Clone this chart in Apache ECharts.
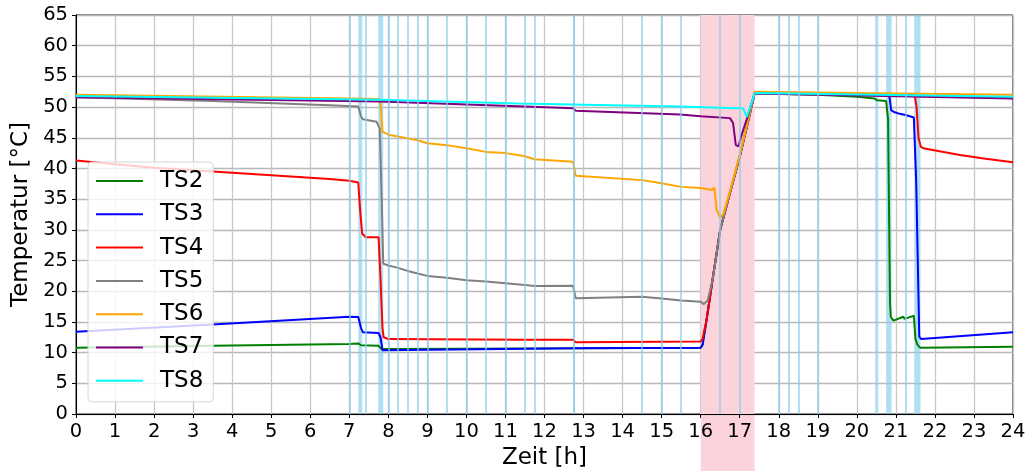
<!DOCTYPE html>
<html>
<head>
<meta charset="utf-8">
<script src="https://cdn.jsdelivr.net/npm/echarts@6/dist/echarts.min.js"></script>
<style>
html,body{margin:0;padding:0;background:#fff;}
#chart{width:1032px;height:475px;}
</style>
</head>
<body>
<div id="chart"></div>
<script>
// ---- data (hours, °C) ----
const seriesNames = ['TS2','TS3','TS4','TS5','TS6','TS7','TS8'];
const xTicks = [0,1,2,3,4,5,6,7,8,9,10,11,12,13,14,15,16,17,18,19,20,21,22,23,24];
const yTicks = [0,5,10,15,20,25,30,35,40,45,50,55,60,65];

const ts2 = [[0,10.8],[3.5,11.1],[7.0,11.4],[7.23,11.5],[7.3,11.2],[7.75,11.1],[7.82,10.6],[7.86,10.3],[7.92,10.6],[10,10.65],[13,10.7],[16.0,10.8],[16.05,11.3],[16.15,15.3],[16.3,21.7],[16.5,30.0],[16.75,36.0],[17.0,41.9],[17.2,47.3],[17.38,52.2],[17.45,52.2],[19.0,52.0],[20.0,51.7],[20.45,51.4],[20.52,51.1],[20.75,51.0],[20.8,48.0],[20.85,18.0],[20.87,15.8],[20.94,15.2],[21.19,15.85],[21.22,15.5],[21.46,16.0],[21.5,12.3],[21.55,11.3],[21.62,10.8],[24,10.95]];
const ts3 = [[0,13.4],[3.5,14.6],[7.0,15.85],[7.23,15.8],[7.3,14.0],[7.35,13.3],[7.75,13.2],[7.8,12.5],[7.85,10.4],[7.9,10.7],[12.75,10.7],[16.0,10.8],[16.05,11.3],[16.15,15.3],[16.3,21.7],[16.5,30.0],[16.75,36.0],[17.0,41.9],[17.2,47.3],[17.38,52.2],[17.45,52.2],[20.8,52.0],[20.84,51.5],[20.88,49.5],[20.95,49.2],[21.1,48.9],[21.25,48.7],[21.3,48.5],[21.46,48.3],[21.52,38.0],[21.6,12.6],[21.65,12.2],[24,13.3]];
const ts4 = [[0,41.3],[1,40.7],[2,40.1],[3.5,39.5],[5,38.9],[6.5,38.3],[7.0,38.0],[7.23,37.7],[7.28,33.0],[7.33,29.4],[7.42,28.8],[7.75,28.8],[7.8,22.0],[7.85,14.0],[7.88,12.5],[8.0,12.2],[11.5,12.1],[12.73,12.1],[12.8,11.7],[16.0,11.8],[16.05,12.3],[16.15,15.3],[16.3,21.7],[16.5,30.0],[16.75,36.0],[17.0,41.9],[17.2,47.3],[17.38,52.2],[17.45,52.2],[21.48,52.0],[21.53,50.0],[21.58,45.0],[21.64,43.5],[21.7,43.3],[22.64,42.2],[23.3,41.6],[24,41.0]];
const ts5 = [[0,51.6],[3.5,51.0],[6.5,50.3],[7.23,50.1],[7.3,48.5],[7.35,48.0],[7.7,47.6],[7.78,46.5],[7.83,35.0],[7.87,24.5],[8.0,24.2],[8.02,23.9],[8.25,23.8],[8.27,23.5],[8.5,23.3],[8.52,23.0],[8.75,22.9],[8.77,22.6],[9.0,22.5],[9.02,22.3],[9.5,22.2],[9.52,21.9],[10.0,21.8],[10.02,21.6],[10.5,21.6],[10.52,21.4],[11.0,21.3],[11.02,21.1],[11.5,21.0],[11.74,20.85],[12.73,20.9],[12.8,18.85],[14.5,19.1],[14.52,18.9],[15.0,18.8],[15.02,18.6],[15.5,18.5],[16.0,18.3],[16.08,17.9],[16.18,18.5],[16.3,21.7],[16.5,30.0],[16.75,36.0],[17.0,41.9],[17.2,47.3],[17.38,52.2],[17.45,52.2],[24,51.5]];
const ts6 = [[0,52.0],[7.0,51.4],[7.75,51.3],[7.8,50.5],[7.85,46.0],[7.9,45.7],[8.0,45.5],[8.25,45.2],[8.5,44.9],[8.75,44.6],[9.0,44.1],[9.5,43.8],[10.0,43.3],[10.5,42.7],[11.0,42.5],[11.5,42.0],[11.74,41.5],[12.73,41.1],[12.8,38.8],[14.5,38.1],[15.0,37.6],[15.5,37.0],[16.0,36.8],[16.3,36.5],[16.35,36.9],[16.41,33.2],[16.5,32.0],[16.58,32.6],[16.75,36.3],[17.0,42.2],[17.2,47.6],[17.38,52.5],[17.45,52.5],[20.0,52.3],[24,52.0]];
const ts7 = [[0,51.6],[7.8,50.9],[11.5,50.1],[12.73,49.8],[12.8,49.4],[15.47,48.8],[16.0,48.5],[16.75,48.2],[16.83,47.4],[16.9,43.8],[16.97,43.6],[17.05,45.5],[17.18,48.0],[17.38,52.2],[17.45,52.2],[24,51.4]];
const ts8 = [[0,51.8],[7.8,51.2],[11.3,50.6],[15.47,50.1],[16.9,49.8],[17.09,49.8],[17.18,48.4],[17.26,49.8],[17.38,52.2],[17.45,52.3],[24,51.7]];
const seriesData = [ts2, ts3, ts4, ts5, ts6, ts7, ts8];
const seriesColors = ['#008000','#0000ff','#ff0000','#808080','#ffa500','#800080','#00ffff'];

// event markers (hours)
const eventLines = [7.0,7.42,8.0,8.25,8.5,8.75,9.0,9.5,10.0,10.5,11.0,11.5,11.75,12.75,14.5,15.0,15.5,16.5,17.0,18.0,18.25,18.5,19.0,21.25];
const eventBands = [[7.23,7.33],[7.74,7.87],[12.73,12.78],[20.47,20.55],[20.75,20.89],[21.47,21.63]];
const highlightBand = [16.0,17.38];

const chart = echarts.init(document.getElementById('chart'), null, {renderer:'canvas'});
const FONT = 'DejaVu Sans';
const blueC = 'rgba(135,206,235,0.65)';

const series = seriesNames.map((n,i)=>({
  name:n, type:'line', data:seriesData[i], symbol:'none', showSymbol:false,
  lineStyle:{width:2,color:seriesColors[i]}, itemStyle:{color:seriesColors[i]},
  z:3, animation:false
}));
series.unshift({
  name:'marks', type:'line', data:[], symbol:'none', z:1, silent:true, animation:false,
  markArea:{silent:true, data:[
    [{xAxis:highlightBand[0], itemStyle:{color:'#fdd3db'}},{xAxis:highlightBand[1]}],
    ...eventBands.map(b=>[{xAxis:b[0], itemStyle:{color:blueC}},{xAxis:b[1]}])
  ]},
  markLine:{silent:true, symbol:['none','none'], label:{show:false},
    lineStyle:{color:blueC,width:2,type:'solid'},
    data:eventLines.map(v=>({xAxis:v}))}
});

const option = {
  animation:false,
  backgroundColor:'#fff',
  textStyle:{fontFamily:FONT},
  grid:{left:76,right:19,top:15,bottom:61,show:true,borderColor:'#000',borderWidth:1,backgroundColor:'transparent'},
  xAxis:{type:'value',min:xTicks[0],max:xTicks[xTicks.length-1],interval:1,
    name:'Zeit [h]',nameLocation:'middle',nameGap:33,nameMoveOverlap:false,
    nameTextStyle:{fontSize:23,color:'#000',fontFamily:FONT},
    axisLine:{lineStyle:{color:'#000',width:1}},
    axisTick:{show:true,length:4,lineStyle:{color:'#000'}},
    axisLabel:{fontSize:19.5,color:'#000',margin:8,fontFamily:FONT},
    splitLine:{show:true,lineStyle:{color:'#c8c8c8',width:1.3}}},
  yAxis:{type:'value',min:yTicks[0],max:yTicks[yTicks.length-1],interval:5,
    name:'Temperatur [°C]',nameLocation:'middle',nameGap:43,nameMoveOverlap:false,
    nameTextStyle:{fontSize:23,color:'#000',fontFamily:FONT},
    axisLine:{show:true,lineStyle:{color:'#000',width:1}},
    axisTick:{show:true,length:4,lineStyle:{color:'#000'}},
    axisLabel:{fontSize:19.5,color:'#000',margin:8,fontFamily:FONT},
    splitLine:{show:true,lineStyle:{color:'#b8b8b8',width:1.3}}},
  legend:{data:seriesNames,orient:'vertical',left:88,top:162,
    icon:'rect',itemWidth:47,itemHeight:2,itemGap:5.3,
    padding:[5,10,7,8],
    backgroundColor:'rgba(255,255,255,0.8)',borderColor:'#d6d6d6',borderWidth:1,borderRadius:4,
    textStyle:{fontSize:23,color:'#000',fontFamily:FONT,lineHeight:28,padding:[0,0,0,12]}},
  series:series
};
chart.setOption(option);

// extend the highlight band below the plot area (as in the reference figure)
const xa = chart.convertToPixel({xAxisIndex:0}, highlightBand[0]);
const xb = chart.convertToPixel({xAxisIndex:0}, highlightBand[1]);
const yBottom = chart.convertToPixel({yAxisIndex:0}, yTicks[0]);
chart.setOption({graphic:[{type:'rect',z:-1,silent:true,
  shape:{x:xa,y:yBottom+1,width:xb-xa,height:471-yBottom-1},
  style:{fill:'#fdd3db'}}]});
</script>
</body>
</html>
